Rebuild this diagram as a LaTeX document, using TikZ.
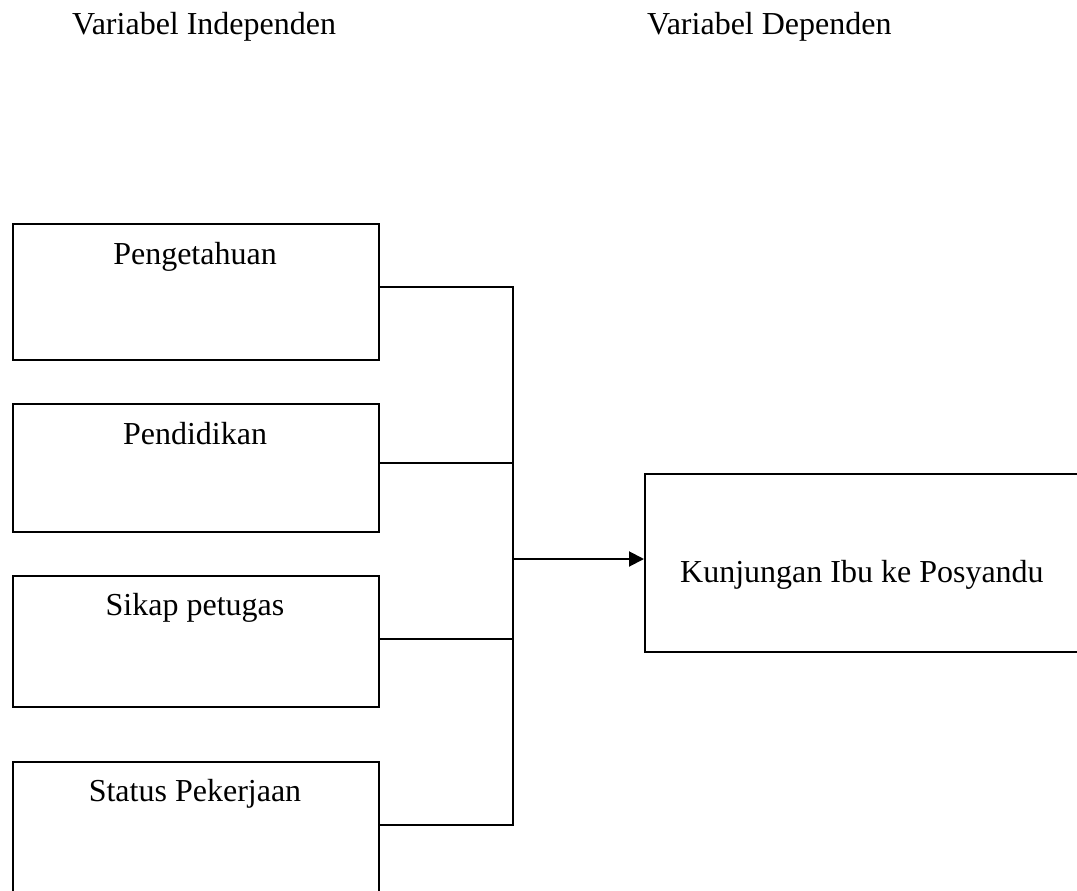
\documentclass[tikz,border=0pt]{standalone}
\usepackage{fontspec}
\setmainfont{Liberation Serif}
\usetikzlibrary{arrows.meta}
\begin{document}
\begin{tikzpicture}[x=1pt,y=-1pt,
  box/.style={draw,line width=2pt,anchor=north west,inner sep=0pt},
  lbl/.style={anchor=base,inner sep=0pt,font=\fontsize{32}{38}\selectfont},
  conn/.style={line width=2pt},
  >={Triangle[length=15pt,width=15pt]}]
\useasboundingbox (0,0) rectangle (1077,891);
\clip (0,0) rectangle (1077,891);
\fill[white] (0,0) rectangle (1077,891);
% headers
\node[lbl,anchor=base west] (hind) at (72,35) {Variabel Independen};
\node[lbl,anchor=base west] (hdep) at (647,35) {Variabel Dependen};
% left boxes
\node[box,minimum width=366pt,minimum height=136pt] (b1) at (12,223) {};
\node[box,minimum width=366pt,minimum height=128pt] (b2) at (12,403) {};
\node[box,minimum width=366pt,minimum height=131pt] (b3) at (12,575) {};
\node[box,minimum width=366pt,minimum height=150pt] (b4) at (12,761) {};
\node[lbl] (t1) at (195,264) {Pengetahuan};
\node[lbl] (t2) at (195,444) {Pendidikan};
\node[lbl] (t3) at (195,615) {Sikap petugas};
\node[lbl] (t4) at (195,801.7) {Status Pekerjaan};
% right box
\node[box,minimum width=460pt,minimum height=178pt] (rb) at (644,473) {};
\node[lbl,anchor=base west] (rt) at (680,582.7) {Kunjungan Ibu ke Posyandu};
% connectors
\coordinate (j1) at (513,287);
\coordinate (j2) at (513,463);
\coordinate (j3) at (513,639);
\coordinate (j4) at (513,825);
\coordinate (ja) at (513,559);
\draw[conn] (b1.east |- j1) -- (j1) -- (j4) -- (b4.east |- j4);
\draw[conn] (b2.east |- j2) -- (j2);
\draw[conn] (b3.east |- j3) -- (j3);
\draw[conn,->] (ja) -- (rb.west |- ja);
\end{tikzpicture}
\end{document}
